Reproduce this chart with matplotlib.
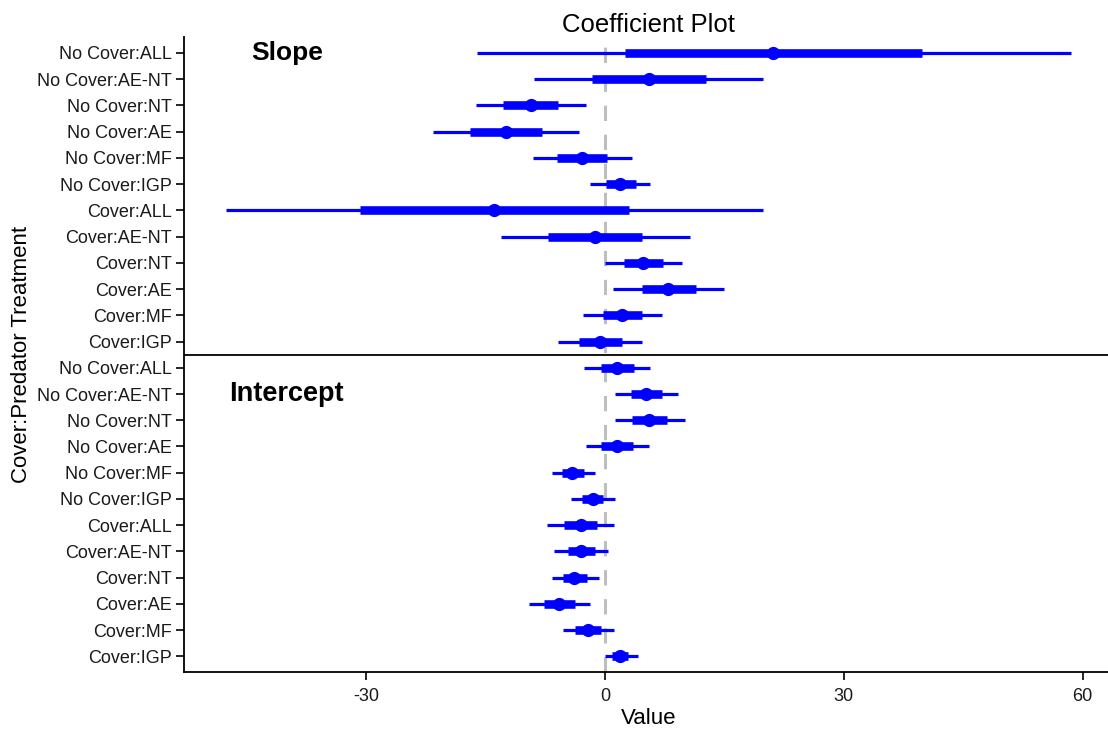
import numpy as np
import matplotlib
matplotlib.use("Agg")
import matplotlib.pyplot as plt

plt.rcParams['font.family'] = ['Liberation Sans', 'DejaVu Sans']
plt.rcParams['axes.unicode_minus'] = False

# treatment labels, top to bottom within each block
treatments = ["No Cover:ALL", "No Cover:AE-NT", "No Cover:NT", "No Cover:AE",
              "No Cover:MF", "No Cover:IGP", "Cover:ALL", "Cover:AE-NT",
              "Cover:NT", "Cover:AE", "Cover:MF", "Cover:IGP"]

# slope coefficients: outer low, inner low, estimate, inner high, outer high
slope_outer_lo = [-16.1, -8.9, -16.2, -21.6, -9.1, -1.9, -47.6, -13.1, 0.0, 1.0, -2.8, -5.9]
slope_inner_lo = [2.5, -1.7, -12.8, -17.0, -6.1, 0.1, -30.8, -7.2, 2.4, 4.6, -0.2, -3.3]
slope_est = [21.1, 5.5, -9.3, -12.5, -2.9, 1.9, -13.9, -1.3, 4.8, 7.9, 2.1, -0.6]
slope_inner_hi = [39.8, 12.7, -5.9, -7.9, 0.2, 3.9, 3.0, 4.7, 7.3, 11.4, 4.6, 2.1]
slope_outer_hi = [58.5, 19.9, -2.4, -3.3, 3.4, 5.7, 19.9, 10.7, 9.7, 15.0, 7.2, 4.7]

# intercept coefficients
int_outer_lo = [-2.6, 1.3, 1.2, -2.4, -6.7, -4.3, -7.3, -6.4, -6.7, -9.6, -5.3, 0.0]
int_inner_lo = [-0.5, 3.3, 3.4, -0.5, -5.4, -2.9, -5.1, -4.6, -5.3, -7.7, -3.8, 0.9]
int_est = [1.5, 5.2, 5.5, 1.5, -4.1, -1.5, -3.0, -3.0, -3.9, -5.8, -2.1, 1.9]
int_inner_hi = [3.6, 7.2, 7.8, 3.5, -2.7, -0.2, -1.0, -1.3, -2.3, -3.8, -0.5, 2.9]
int_outer_hi = [5.7, 9.1, 10.0, 5.5, -1.3, 1.2, 1.1, 0.4, -0.8, -1.9, 1.1, 4.1]

labels = treatments + treatments
outer_lo = slope_outer_lo + int_outer_lo
inner_lo = slope_inner_lo + int_inner_lo
est = slope_est + int_est
inner_hi = slope_inner_hi + int_inner_hi
outer_hi = slope_outer_hi + int_outer_hi

n = len(labels)
y = np.arange(n)[::-1] + 1  # top row gets the largest y

fig = plt.figure(figsize=(11.08, 7.29), dpi=100)
# right edge runs just past the image, as in the (cropped) original
ax = fig.add_axes([0.166, 0.078, 0.8385, 0.871])

blue = "#0000FF"
ax.axvline(0, color="#BEBEBE", lw=2.2, dashes=(5, 4.5), zorder=1)
ax.hlines(y, outer_lo, outer_hi, color=blue, lw=2.3, zorder=2)
ax.hlines(y, inner_lo, inner_hi, color=blue, lw=6.2, zorder=3)
ax.plot(est, y, "o", color=blue, ms=8.5, zorder=4)

# divider between slope and intercept blocks
ax.axhline(12.5, color="black", lw=1.3, zorder=5)

lo_all = min(outer_lo)
hi_all = max(outer_hi)
pad = 0.05 * (hi_all - lo_all)
ax.set_xlim(lo_all - pad, hi_all + pad)
ax.set_ylim(0.4, n + 0.6)

ax.set_xticks([-30, 0, 30, 60])
ax.set_yticks(y)
ax.set_yticklabels(labels)
ax.tick_params(axis="both", labelsize=13, length=5.5, width=1.2,
               color="black", labelcolor="#1a1a1a")
ax.tick_params(axis="y", pad=3)
ax.tick_params(axis="x", pad=6)

for side in ["top", "right"]:
    ax.spines[side].set_visible(False)
for side in ["left", "bottom"]:
    ax.spines[side].set_linewidth(1.3)

ax.text(-40, n, "Slope", fontsize=19, fontweight="bold", ha="center", va="center")
ax.text(-40, n - 13, "Intercept", fontsize=19.5, fontweight="bold", ha="center", va="center")

ax.set_title("Coefficient Plot", fontsize=18.5, pad=3)
ax.set_xlabel("Value", fontsize=16, labelpad=2)
ax.set_ylabel("Cover:Predator Treatment", fontsize=16, labelpad=4)

fig.savefig("out.png", dpi=100)
